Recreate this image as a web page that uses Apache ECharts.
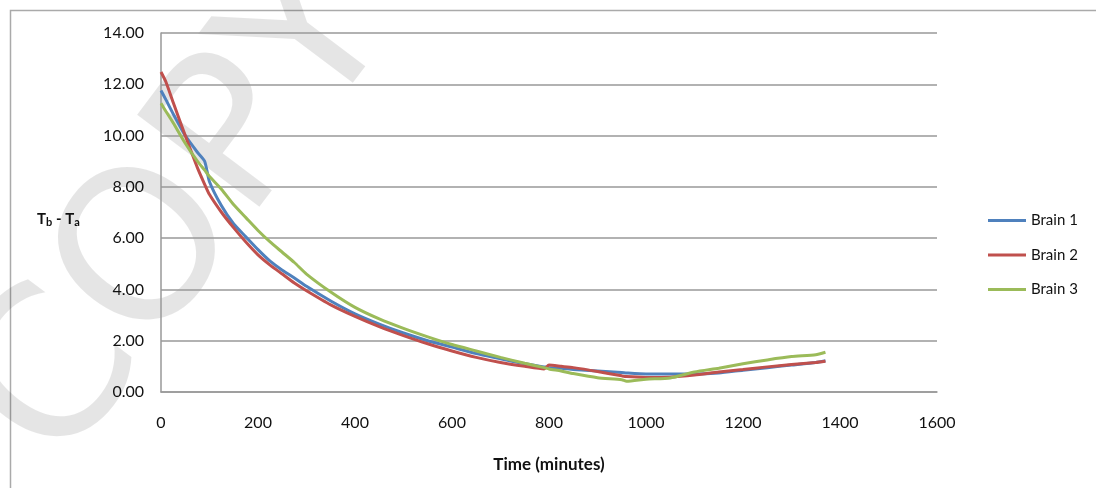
<!DOCTYPE html>
<html>
<head>
<meta charset="utf-8">
<script src="https://cdn.jsdelivr.net/npm/echarts@6/dist/echarts.min.js"></script>
<style>
  html, body { margin: 0; padding: 0; background: #fff; }
  #chart { width: 1096px; height: 488px; }
</style>
</head>
<body>
<div id="chart"></div>
<script>
// 时间点（分钟），三条曲线共用
const times = [0, 10, 25, 50, 75, 90, 100, 125, 150, 175, 200, 225, 250, 275, 300, 350, 400, 450, 500, 550,
  600, 650, 700, 750, 790, 800, 825, 850, 900, 950, 960, 1000, 1050, 1100, 1150, 1200, 1250, 1300, 1350, 1370]

// Tb - Ta 读数
const brain1 = [11.76, 11.4, 10.85, 10.0, 9.35, 9.0, 8.2, 7.25, 6.55, 6.05, 5.55, 5.1, 4.75, 4.45, 4.12, 3.55, 3.05, 2.65, 2.3, 2.0,
  1.75, 1.5, 1.3, 1.1, 0.98, 0.95, 0.93, 0.88, 0.82, 0.76, 0.74, 0.7, 0.7, 0.7, 0.74, 0.85, 0.95, 1.05, 1.15, 1.22]
const brain2 = [12.48, 12.1, 11.3, 10.0, 8.75, 8.1, 7.7, 7.0, 6.4, 5.85, 5.35, 4.95, 4.6, 4.25, 3.95, 3.4, 2.95, 2.55, 2.2, 1.88,
  1.6, 1.35, 1.15, 1.0, 0.9, 1.05, 1.0, 0.95, 0.8, 0.63, 0.6, 0.57, 0.58, 0.66, 0.78, 0.88, 0.98, 1.07, 1.15, 1.2]
const brain3 = [11.26, 10.95, 10.5, 9.7, 9.0, 8.65, 8.4, 7.9, 7.3, 6.8, 6.3, 5.85, 5.45, 5.05, 4.6, 3.9, 3.3, 2.85, 2.48, 2.15,
  1.85, 1.6, 1.35, 1.12, 0.95, 0.9, 0.82, 0.72, 0.56, 0.48, 0.42, 0.5, 0.55, 0.78, 0.93, 1.1, 1.25, 1.38, 1.45, 1.55]

const seriesNames = ['Brain 1', 'Brain 2', 'Brain 3']
const seriesColors = ['#4F81BD', '#C0504D', '#9BBB59']

const FONT = 'Lato, "Open Sans", sans-serif'

function toPairs(values) {
  return times.map((t, i) => [t, values[i]])
}

const chart = echarts.init(document.getElementById('chart'), null, { renderer: 'canvas' })

const option = {
  animation: false,
  backgroundColor: '#fff',
  textStyle: { fontFamily: FONT },
  grid: {
    left: 161,
    right: 159,
    top: 33,
    bottom: 96,
  },
  legend: {
    orient: 'vertical',
    left: 983,
    top: 208,
    itemWidth: 38,
    itemHeight: 3,
    itemGap: 19.5,
    icon: 'rect',
    textStyle: { fontSize: 15, color: '#111', fontFamily: FONT },
    data: seriesNames,
  },
  xAxis: {
    type: 'value',
    min: 0,
    max: 1600,
    interval: 200,
    name: 'Time (minutes)',
    nameLocation: 'middle',
    nameGap: 64,
    nameTextStyle: { fontSize: 17, fontWeight: 'bold', color: '#111', fontFamily: FONT },
    axisLine: { show: true, lineStyle: { color: '#999', width: 1.5 } },
    axisTick: { show: false },
    axisLabel: { fontSize: 16, color: '#111', margin: 23, formatter: (v) => String(v) },
    splitLine: { show: false },
  },
  yAxis: {
    type: 'value',
    min: 0,
    max: 14,
    interval: 2,
    axisLine: { show: true, lineStyle: { color: '#999', width: 1.5 } },
    axisTick: { show: false },
    axisLabel: {
      fontSize: 16,
      color: '#111',
      margin: 17,
      formatter: (v) => v.toFixed(2),
    },
    splitLine: { lineStyle: { color: '#999', width: 1.5 } },
  },
  graphic: [
    // 外框
    {
      type: 'rect',
      z: -5,
      shape: { x: 10.5, y: 10.5, width: 1200, height: 600 },
      style: { fill: 'none', stroke: '#aaa', lineWidth: 1.5 },
    },
    // 水印
    {
      type: 'text',
      z: -4,
      x: 185,
      y: 215,
      rotation: (53 * Math.PI) / 180,
      style: {
        text: 'COPY',
        fontSize: 210,
        fontFamily: '"DejaVu Sans"',
        fill: 'rgba(0,0,0,0.1)',
        align: 'center',
        verticalAlign: 'middle',
      },
    },
    // y 轴标题
    {
      type: 'text',
      left: 37,
      top: 212,
      style: {
        text: '{t|T}{s|b}{t| - T}{s|a}',
        rich: {
          t: { fontSize: 15, fontWeight: 'bold', fill: '#111', fontFamily: FONT },
          s: { fontSize: 11, fontWeight: 'bold', fill: '#111', fontFamily: FONT, padding: [6, 0, 0, 0] },
        },
      },
    },
  ],
  series: [brain1, brain2, brain3].map((values, i) => ({
    name: seriesNames[i],
    type: 'line',
    data: toPairs(values),
    showSymbol: false,
    smooth: 0.2,
    color: seriesColors[i],
    lineStyle: { width: 3, color: seriesColors[i] },
  })),
}

chart.setOption(option)
</script>
</body>
</html>
